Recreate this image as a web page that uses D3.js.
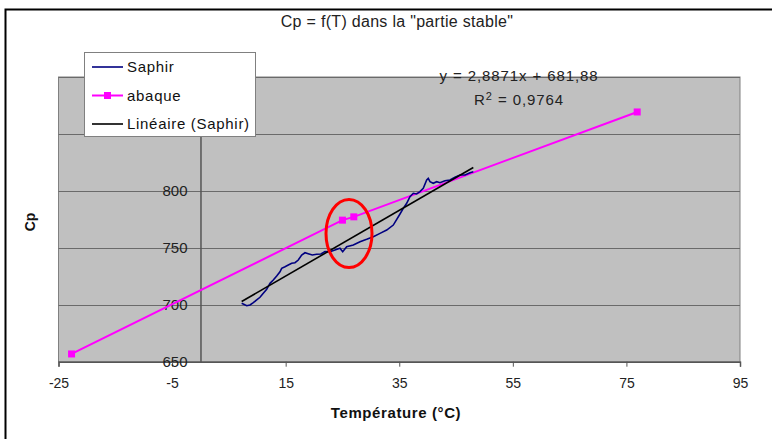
<!DOCTYPE html>
<html>
<head>
<meta charset="utf-8">
<script src="https://cdn.jsdelivr.net/npm/d3@7"></script>
<style>
  body { margin: 0; background: #fff; }
  text { font-family: "Liberation Sans", Arial, sans-serif; }
</style>
</head>
<body>
<div id="chart"></div>
<script>
// Saphir measurements (T in °C, Cp)
const saphirT = [7.25, 8.14, 8.72, 9.3, 9.9, 10.48, 11.06, 11.66, 12.24, 12.82, 13.42, 14.0, 14.3, 14.88,
    15.46, 16.06, 16.64, 17.22, 17.82, 18.4, 19.11, 19.69, 20.46, 21.22, 21.92, 22.8, 23.68, 24.56,
    25.04, 25.74, 26.91, 28.09, 29.27, 30.43, 31.61, 32.79, 33.95, 35.13, 35.71, 36.31, 36.89, 37.47,
    38.07, 38.65, 39.23, 39.83, 40.11, 40.41, 40.99, 41.59, 42.17, 43.05, 43.93, 44.81, 45.7, 46.58,
    47.46, 48.04]
const saphirCp = [701.3, 699.2, 699.8, 701.8, 704.2, 706.6, 710.1, 713.6, 718.8, 721.7, 725.3, 729.0, 732.0, 733.4,
    734.9, 736.4, 736.9, 739.3, 743.7, 745.7, 744.6, 743.7, 744.3, 744.6, 746.8, 746.6, 748.1, 749.6,
    746.6, 751.0, 752.5, 755.4, 757.5, 759.8, 762.7, 765.6, 770.0, 779.7, 784.7, 789.1, 794.9, 797.9,
    797.3, 799.3, 802.3, 809.6, 811.0, 808.1, 806.7, 808.1, 807.2, 808.9, 809.6, 811.9, 813.9, 813.9,
    816.0, 816.8]

// abaque (reference table)
const abaqueT = [-22.7, 25, 27, 76.9]
const abaqueCp = [656.8, 774.3, 777.2, 869.3]

// trend line of Saphir
const slope = 2.8871
const intercept = 681.88

const xTicks = [-25, -5, 15, 35, 55, 75, 95]
const yGrid = [650, 700, 750, 800, 850, 900]
const yLabels = [650, 700, 750, 800]   // 850 and 900 sit under the legend

const W = 772, H = 439
const plot = { left: 58.5, right: 740, top: 77, bottom: 361.7 }

const svg = d3.select("#chart").append("svg")
    .attr("width", W)
    .attr("height", H)

// outer frame
svg.append("rect")
    .attr("x", 5.5).attr("y", 9.5)
    .attr("width", W + 10).attr("height", H + 10)
    .attr("fill", "white")
    .attr("stroke", "black")
    .attr("stroke-width", 2)

const x = d3.scaleLinear().domain([-25, 95]).range([plot.left, plot.right])
const y = d3.scaleLinear().domain([650, 900]).range([plot.bottom, plot.top])

svg.append("rect")
    .attr("x", plot.left).attr("y", plot.top)
    .attr("width", plot.right - plot.left)
    .attr("height", plot.bottom - plot.top)
    .attr("fill", "#c0c0c0")
    .attr("stroke", "#808080")

// horizontal gridlines
svg.append("g").selectAll("line")
    .data(yGrid.slice(1))
    .join("line")
    .attr("x1", plot.left).attr("x2", plot.right)
    .attr("y1", d => Math.round(y(d)) + 0.5)
    .attr("y2", d => Math.round(y(d)) + 0.5)
    .attr("stroke", "#6a6a6a")

// x axis at bottom, ticks below
const xAxis = d3.axisBottom(x).tickValues(xTicks).tickSize(5).tickFormat(d => String(d))
const gx = svg.append("g")
    .attr("transform", `translate(0,${plot.bottom})`)
    .call(xAxis)
gx.select(".domain").attr("stroke", "#555").attr("stroke-width", 1.5)
gx.selectAll(".tick line").attr("stroke", "#555")
gx.selectAll(".tick text")
    .attr("y", 16)
    .attr("fill", "#222")
    .style("font-size", "14px")
    .style("font-family", "Liberation Sans, Arial, sans-serif")

// y axis crossing at T = 0
const yAxis = d3.axisLeft(y).tickValues(yLabels).tickSize(0).tickPadding(13)
const gy = svg.append("g")
    .attr("transform", `translate(${x(0)},0)`)
    .call(yAxis)
gy.select(".domain").attr("stroke", "#555").attr("stroke-width", 1.5)
gy.selectAll(".tick text")
    .attr("fill", "#222")
    .style("font-size", "15px")
    .style("font-family", "Liberation Sans, Arial, sans-serif")

// abaque line + markers
const abaque = abaqueT.map((t, i) => ({ t, cp: abaqueCp[i] }))
svg.append("path")
    .datum(abaque)
    .attr("d", d3.line().x(d => x(d.t)).y(d => y(d.cp)))
    .attr("fill", "none")
    .attr("stroke", "#ff00ff")
    .attr("stroke-width", 2)
svg.append("g").selectAll("rect")
    .data(abaque)
    .join("rect")
    .attr("x", d => x(d.t) - 3.5)
    .attr("y", d => y(d.cp) - 3.5)
    .attr("width", 7).attr("height", 7)
    .attr("fill", "#ff00ff")

// Saphir curve
const saphir = saphirT.map((t, i) => ({ t, cp: saphirCp[i] }))
svg.append("path")
    .datum(saphir)
    .attr("d", d3.line().x(d => x(d.t)).y(d => y(d.cp)))
    .attr("fill", "none")
    .attr("stroke", "#000080")
    .attr("stroke-width", 1.6)

// linear trend
const t0 = d3.min(saphirT), t1 = d3.max(saphirT)
svg.append("line")
    .attr("x1", x(t0)).attr("y1", y(slope * t0 + intercept))
    .attr("x2", x(t1)).attr("y2", y(slope * t1 + intercept))
    .attr("stroke", "black")
    .attr("stroke-width", 1.6)

// red hand-drawn ellipse
svg.append("ellipse")
    .attr("cx", 349).attr("cy", 233.5)
    .attr("rx", 23).attr("ry", 34)
    .attr("fill", "none")
    .attr("stroke", "#ff0000")
    .attr("stroke-width", 3)

// equation labels
svg.append("text")
    .attr("x", 519).attr("y", 81)
    .attr("text-anchor", "middle")
    .attr("fill", "#222")
    .style("font-size", "15px")
    .style("letter-spacing", "0.9px")
    .text("y = 2,8871x + 681,88")
const r2 = svg.append("text")
    .attr("x", 519).attr("y", 105)
    .attr("text-anchor", "middle")
    .attr("fill", "#222")
    .style("font-size", "15px")
    .style("letter-spacing", "0.9px")
r2.append("tspan").text("R")
r2.append("tspan").attr("dy", -5).style("font-size", "11px").text("2")
r2.append("tspan").attr("dy", 5).text(" = 0,9764")

// title
svg.append("text")
    .attr("x", 397).attr("y", 27)
    .attr("text-anchor", "middle")
    .attr("fill", "#222")
    .style("font-size", "16px")
    .style("letter-spacing", "0.3px")
    .text("Cp = f(T) dans la \"partie stable\"")

// axis titles
svg.append("text")
    .attr("x", 396).attr("y", 418)
    .attr("text-anchor", "middle")
    .attr("fill", "#111")
    .style("font-size", "15px")
    .style("font-weight", "bold")
    .style("letter-spacing", "0.6px")
    .text("Température (°C)")

svg.append("text")
    .attr("transform", "translate(35,222) rotate(-90)")
    .attr("text-anchor", "middle")
    .attr("fill", "#111")
    .style("font-size", "14px")
    .style("font-weight", "bold")
    .text("Cp")

// legend
svg.append("rect")
    .attr("x", 84.5).attr("y", 52.5)
    .attr("width", 171).attr("height", 84)
    .attr("fill", "white")
    .attr("stroke", "#808080")

const legendItems = [
    { name: "Saphir", color: "#000080", marker: false },
    { name: "abaque", color: "#ff00ff", marker: true },
    { name: "Linéaire (Saphir)", color: "black", marker: false }
]
const ly = d3.scalePoint().domain(legendItems.map(d => d.name)).range([67, 124])
const lg = svg.append("g").selectAll("g")
    .data(legendItems)
    .join("g")
    .attr("transform", d => `translate(0,${ly(d.name)})`)
lg.append("line")
    .attr("x1", 92).attr("x2", 123)
    .attr("stroke", d => d.color)
    .attr("stroke-width", d => d.marker ? 2 : 1.6)
lg.filter(d => d.marker).append("rect")
    .attr("x", 104).attr("y", -3.5)
    .attr("width", 7).attr("height", 7)
    .attr("fill", "#ff00ff")
lg.append("text")
    .attr("x", 127).attr("y", 5)
    .attr("fill", "#111")
    .style("font-size", "15px")
    .style("letter-spacing", "0.7px")
    .text(d => d.name)
</script>
</body>
</html>
